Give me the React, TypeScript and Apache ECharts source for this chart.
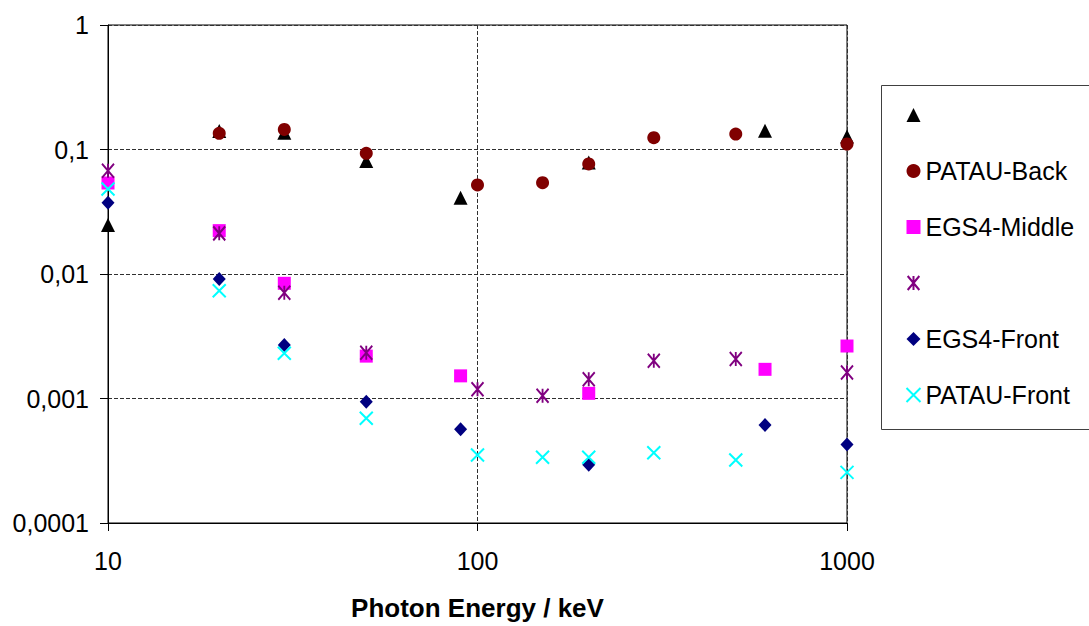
import React, { useEffect, useRef } from 'react';
import * as echarts from 'echarts';

// Photon energy (keV) and values for each series
const triX = [10, 20, 30, 50, 90, 200, 600, 1000];
const triY = [0.0248, 0.141, 0.136, 0.081, 0.041, 0.0785, 0.1416, 0.127];
const backX = [20, 30, 50, 100, 150, 200, 300, 500, 1000];
const backY = [0.135, 0.145, 0.0932, 0.0519, 0.0541, 0.0765, 0.1244, 0.133, 0.1107];
const midX = [10, 20, 30, 50, 90, 200, 600, 1000];
const midY = [0.0538, 0.0223, 0.00842, 0.00219, 0.00152, 0.0011, 0.001715, 0.00264];
const astX = [10, 20, 30, 50, 100, 150, 200, 300, 500, 1000];
const astY = [0.0676, 0.0212, 0.00708, 0.00233, 0.001186, 0.001054, 0.001426, 0.00201, 0.002075, 0.00162];
const frontX = [10, 20, 30, 50, 90, 200, 600, 1000];
const frontY = [0.0374, 0.00912, 0.00269, 0.000942, 0.000565, 0.000294, 0.000612, 0.000428];
const pfX = [10, 20, 30, 50, 100, 150, 200, 300, 500, 1000];
const pfY = [0.0482, 0.00734, 0.00231, 0.000693, 0.000352, 0.000337, 0.000337, 0.000367, 0.000321, 0.000255];

const seriesNames = ['series1', 'PATAU-Back', 'EGS4-Middle', 'series4', 'EGS4-Front', 'PATAU-Front'];
const legendLabels = [' ', 'PATAU-Back', 'EGS4-Middle', ' ', 'EGS4-Front', 'PATAU-Front'];
const xTitle = 'Photon Energy / keV';

const FONT = '"Liberation Sans", Arial, sans-serif';

const pair = (xs: number[], ys: number[]) => xs.map((x, i) => [x, ys[i]]);

export default function App() {
  const ref = useRef<HTMLDivElement>(null);
  useEffect(() => {
    if (!ref.current) return;
    const chart = echarts.init(ref.current, null, { renderer: 'svg' });
    const fmt = (v: number) => String(Number(v.toPrecision(6))).replace('.', ',');
    const splitStyle = { show: true, lineStyle: { color: '#303030', type: [4, 2], width: 1 } };
    const common = { type: 'scatter' as const };
    chart.setOption({
      animation: false,
      backgroundColor: '#ffffff',
      textStyle: { fontFamily: FONT },
      grid: {
        left: 108, right: 242, top: 25, bottom: 103,
        show: true, borderColor: '#000', borderWidth: 1, backgroundColor: 'transparent',
      },
      xAxis: {
        type: 'log', logBase: 10, min: 10, max: 1000,
        name: xTitle, nameLocation: 'middle', nameGap: 72,
        nameTextStyle: { fontFamily: FONT, fontSize: 26, fontWeight: 'bold', color: '#000' },
        axisLine: { show: true, lineStyle: { color: '#000', width: 1 } },
        axisTick: { show: true, length: 8, lineStyle: { color: '#000' } },
        axisLabel: { fontFamily: FONT, fontSize: 25, color: '#000', margin: 25, formatter: fmt },
        splitLine: splitStyle,
        minorTick: { show: false },
      },
      yAxis: {
        type: 'log', logBase: 10, min: 0.0001, max: 1,
        axisLine: { show: true, lineStyle: { color: '#000', width: 1 } },
        axisTick: { show: true, length: 8, lineStyle: { color: '#000' } },
        axisLabel: { fontFamily: FONT, fontSize: 25, color: '#000', margin: 19, formatter: fmt },
        splitLine: splitStyle,
      },
      legend: {
        orient: 'vertical', left: 899, top: 95,
        itemWidth: 14, itemHeight: 14, itemGap: 26,
        data: seriesNames,
        formatter: (name: string) => legendLabels[seriesNames.indexOf(name)],
        textStyle: { fontFamily: FONT, fontSize: 25, color: '#000', lineHeight: 30 },
        selectedMode: false,
      },
      graphic: [
        {
          type: 'rect', left: 881, top: 85, z: -1,
          shape: { x: 0, y: 0, width: 300, height: 344 },
          style: { fill: '#fff', stroke: '#404040', lineWidth: 1 },
        },
      ],
      series: [
        { ...common, name: seriesNames[0], data: pair(triX, triY), symbol: 'triangle', symbolSize: 14,
          itemStyle: { color: '#000000', opacity: 1 } },
        { ...common, name: seriesNames[1], data: pair(backX, backY), symbol: 'circle', symbolSize: 13,
          itemStyle: { color: '#800000', opacity: 1 } },
        { ...common, name: seriesNames[2], data: pair(midX, midY), symbol: 'rect', symbolSize: 13,
          itemStyle: { color: '#ff00ff', opacity: 1 } },
        { ...common, name: seriesNames[3], data: pair(astX, astY),
          symbol: 'path://M0,0L10,12M10,0L0,12M5,0L5,12', symbolSize: [12, 14],
          itemStyle: { color: 'none', borderColor: '#800080', borderWidth: 2, opacity: 1 } },
        { ...common, name: seriesNames[4], data: pair(frontX, frontY), symbol: 'diamond', symbolSize: [13, 14],
          itemStyle: { color: '#000080', opacity: 1 } },
        { ...common, name: seriesNames[5], data: pair(pfX, pfY),
          symbol: 'path://M0,0L10,10M10,0L0,10', symbolSize: 13,
          itemStyle: { color: 'none', borderColor: '#00ffff', borderWidth: 2, opacity: 1 } },
      ],
    });
    return () => chart.dispose();
  }, []);
  return (
    <div
      ref={ref}
      style={{ position: 'fixed', left: 0, top: 0, width: 1089, height: 626, background: '#fff' }}
    />
  );
}
